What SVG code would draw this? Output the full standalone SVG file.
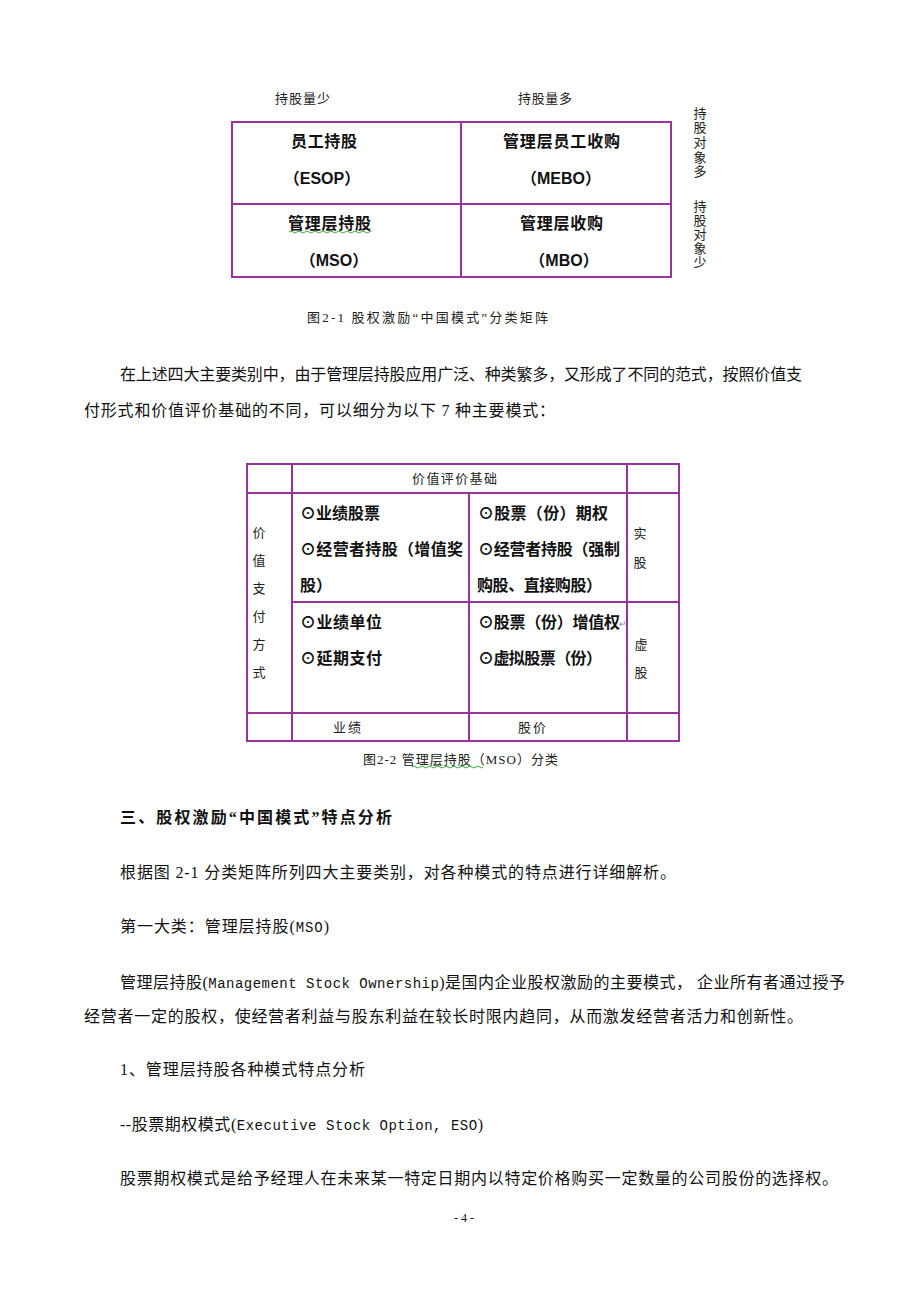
<svg xmlns="http://www.w3.org/2000/svg" width="920" height="1302" viewBox="0 0 920 1302">
<style>
.ln{stroke:#993399;stroke-width:2;fill:none}
.lt{font-family:"Liberation Serif","Noto Sans CJK SC",serif;font-size:13px;fill:#222}
.bd{font-family:"Liberation Sans","Noto Sans CJK SC",sans-serif;font-size:16px;font-weight:bold;fill:#111}
.tx{font-family:"Liberation Serif","Noto Sans CJK SC",serif;font-size:16px;fill:#111}
.mono{font-family:"Liberation Mono",monospace;font-size:14px}
.wavy{stroke:#3aa83a;stroke-width:1;fill:none}
</style>
<rect width="920" height="1302" fill="#fff"/>

<!-- Figure 2-1 -->
<g id="fig1-labels">
<text class="lt" x="275" y="103" textLength="55">持股量少</text>
<text class="lt" x="518" y="103" textLength="54">持股量多</text>
<text class="lt" text-anchor="middle"><tspan x="700" y="118">持</tspan><tspan x="700" y="132">股</tspan><tspan x="700" y="147">对</tspan><tspan x="700" y="162">象</tspan><tspan x="700" y="176">多</tspan></text>
<text class="lt" text-anchor="middle"><tspan x="700" y="211">持</tspan><tspan x="700" y="225">股</tspan><tspan x="700" y="239">对</tspan><tspan x="700" y="253">象</tspan><tspan x="700" y="267">少</tspan></text>
</g>
<g id="fig1-grid">
<rect class="ln" x="232" y="122" width="439" height="155"/>
<line class="ln" x1="461" y1="122" x2="461" y2="277"/>
<line class="ln" x1="232" y1="204" x2="671" y2="204"/>
</g>
<g id="cell-esop">
<text class="bd" x="291" y="147" textLength="66">员工持股</text>
<text class="bd" x="322" y="184" text-anchor="middle">（ESOP）</text>
</g>
<g id="cell-mebo">
<text class="bd" x="503" y="147" textLength="117">管理层员工收购</text>
<text class="bd" x="561" y="184" text-anchor="middle">（MEBO）</text>
</g>
<g id="cell-mso">
<text class="bd" x="288" y="229" textLength="83">管理层持股</text>
<path class="wavy" d="M289 232 q2 -2 4 0 t4 0 t4 0 t4 0 t4 0 t4 0 t4 0 t4 0 t4 0 t4 0 t4 0 t4 0 t4 0 t4 0 t4 0 t4 0 t4 0 t4 0 t4 0 t4 0 t2 0"/>
<text class="bd" x="334" y="266" text-anchor="middle">（MSO）</text>
</g>
<g id="cell-mbo">
<text class="bd" x="520" y="229" textLength="83">管理层收购</text>
<text class="bd" x="564" y="266" text-anchor="middle">（MBO）</text>
</g>
<g id="caption1">
<text class="lt" x="307" y="322" textLength="241">图2-1  股权激励“中国模式”分类矩阵</text>
</g>

<g id="para1">
<text class="tx" x="120" y="380" textLength="682">在上述四大主要类别中，由于管理层持股应用广泛、种类繁多，又形成了不同的范式，按照价值支</text>
<text class="tx" x="84" y="416" textLength="471">付形式和价值评价基础的不同，可以细分为以下 7 种主要模式：</text>
</g>

<!-- Figure 2-2 -->
<g id="fig2-grid">
<rect class="ln" x="247" y="464" width="432" height="277"/>
<line class="ln" x1="292" y1="464" x2="292" y2="741"/>
<line class="ln" x1="627" y1="464" x2="627" y2="741"/>
<line class="ln" x1="469" y1="493" x2="469" y2="741"/>
<line class="ln" x1="247" y1="493" x2="679" y2="493"/>
<line class="ln" x1="292" y1="602" x2="679" y2="602"/>
<line class="ln" x1="247" y1="713" x2="679" y2="713"/>
</g>
<g id="header-basis">
<text class="lt" x="412" y="483" textLength="85">价值评价基础</text>
</g>
<g id="header-payment">
<text class="lt" text-anchor="middle"><tspan x="259" y="537">价</tspan><tspan x="259" y="565">值</tspan><tspan x="259" y="593">支</tspan><tspan x="259" y="621">付</tspan><tspan x="259" y="649">方</tspan><tspan x="259" y="677">式</tspan></text>
</g>
<g id="cell-perf-real">
<text class="bd" x="300" y="519" textLength="80">⊙业绩股票</text>
<text class="bd" x="300" y="555" textLength="163">⊙经营者持股（增值奖</text>
<text class="bd" x="300" y="591">股）</text>
</g>
<g id="cell-price-real">
<text class="bd" x="478" y="519" textLength="130">⊙股票（份）期权</text>
<text class="bd" x="478" y="555" textLength="142">⊙经营者持股（强制</text>
<text class="bd" x="477" y="591" textLength="125">购股、直接购股）</text>
</g>
<g id="label-real">
<text class="lt" text-anchor="middle"><tspan x="640" y="538">实</tspan><tspan x="640" y="567">股</tspan></text>
</g>
<g id="cell-perf-virtual">
<text class="bd" x="300" y="628" textLength="82">⊙业绩单位</text>
<text class="bd" x="300" y="664" textLength="82">⊙延期支付</text>
</g>
<g id="cell-price-virtual">
<text class="bd" x="478" y="628" textLength="142">⊙股票（份）增值权</text>
<text x="619" y="627" font-family="Liberation Sans,sans-serif" font-size="9" fill="#b070b0">↵</text>
<text class="bd" x="478" y="664" textLength="124">⊙虚拟股票（份）</text>
</g>
<g id="label-virtual">
<text class="lt" text-anchor="middle"><tspan x="641" y="649">虚</tspan><tspan x="641" y="677">股</tspan></text>
</g>
<g id="footer-perf">
<text class="lt" x="333" y="732" textLength="28">业绩</text>
</g>
<g id="footer-price">
<text class="lt" x="518" y="732" textLength="28">股价</text>
</g>
<g id="caption2">
<text class="lt" x="363" y="764" textLength="195">图2-2  管理层持股（MSO）分类</text>
<path class="wavy" d="M412 767 q2 -2 4 0 t4 0 t4 0 t4 0 t4 0 t4 0 t4 0 t4 0 t4 0 t4 0 t4 0 t4 0 t4 0 t4 0 t4 0 t4 0 t4 0 t3 0"/>
</g>
<g id="connectors"/>

<g id="body">
<text class="tx" x="120" y="823" font-weight="bold" textLength="272">三、股权激励“中国模式”特点分析</text>
<text class="tx" x="120" y="878" textLength="556">根据图 2-1 分类矩阵所列四大主要类别，对各种模式的特点进行详细解析。</text>
<text class="tx" x="120" y="932" textLength="209">第一大类：管理层持股(<tspan class="mono">MSO</tspan>)</text>
<text class="tx" x="120" y="988" textLength="725">管理层持股(<tspan class="mono">Management Stock Ownership</tspan>)是国内企业股权激励的主要模式， 企业所有者通过授予</text>
<text class="tx" x="84" y="1022" textLength="719">经营者一定的股权，使经营者利益与股东利益在较长时限内趋同，从而激发经营者活力和创新性。</text>
<text class="tx" x="120" y="1075" textLength="245">1、管理层持股各种模式特点分析</text>
<text class="tx" x="120" y="1130" textLength="363">--股票期权模式(<tspan class="mono">Executive Stock Option, ESO</tspan>)</text>
<text class="tx" x="120" y="1184" textLength="718">股票期权模式是给予经理人在未来某一特定日期内以特定价格购买一定数量的公司股份的选择权。</text>
<text x="464" y="1222" text-anchor="middle" font-family="Liberation Serif,serif" font-size="12" fill="#111">- 4 -</text>
</g>
</svg>
